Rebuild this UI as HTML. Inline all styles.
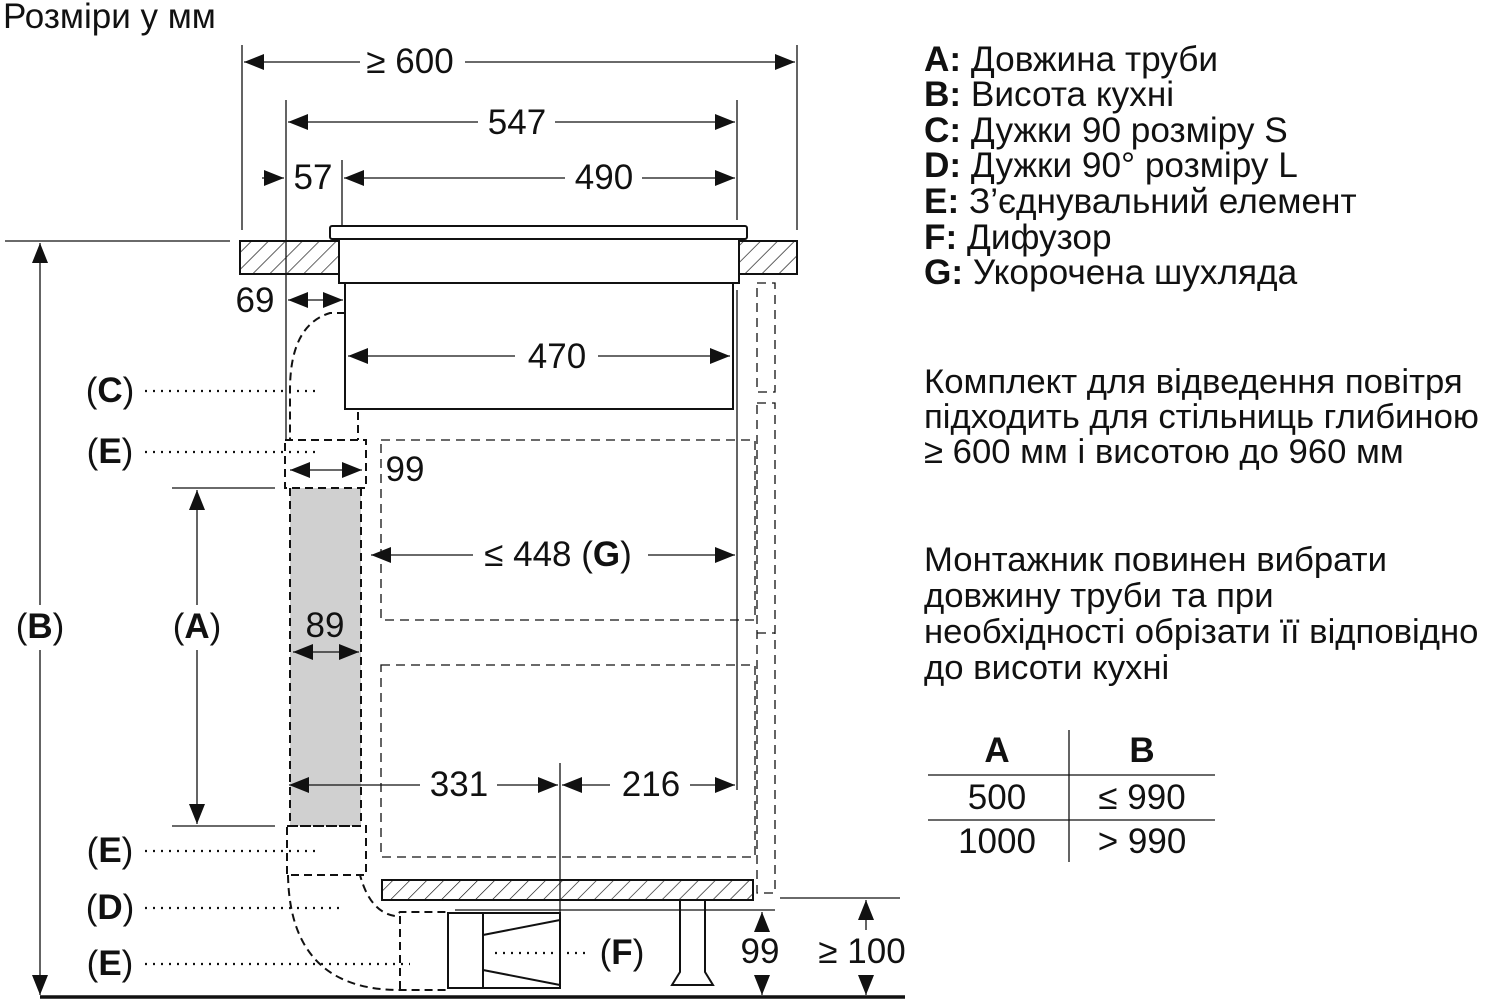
<!DOCTYPE html>
<html><head><meta charset="utf-8"><style>
html,body{margin:0;padding:0;background:#fff;}
svg{display:block;}
text{font-family:"Liberation Sans",sans-serif;fill:#111;}
</style></head><body>
<svg width="1500" height="1006" viewBox="0 0 1500 1006" xmlns="http://www.w3.org/2000/svg">
<defs>
<marker id="a" viewBox="0 0 10 10" refX="10" refY="5" markerWidth="20" markerHeight="20" markerUnits="userSpaceOnUse" orient="auto-start-reverse"><path d="M0,1 L10,5 L0,9 z" fill="#111"/></marker>
<pattern id="h" width="12" height="12" patternUnits="userSpaceOnUse" patternTransform="rotate(45)"><line x1="0" y1="0" x2="0" y2="12" stroke="#111" stroke-width="1.3"/></pattern>
</defs>
<text x="3" y="28" font-size="35">Розміри у мм</text>
<g stroke="#111" fill="none" stroke-width="1.3">
<line x1="242" y1="45" x2="242" y2="230"/><line x1="797" y1="45" x2="797" y2="230"/>
<line x1="286" y1="100" x2="286" y2="440"/><line x1="737" y1="100" x2="737" y2="220"/>
<line x1="342" y1="160" x2="342" y2="225"/>
<line x1="5" y1="241" x2="230" y2="241"/>
<line x1="172" y1="488" x2="275" y2="488"/><line x1="172" y1="826" x2="275" y2="826"/>
<line x1="737" y1="290" x2="737" y2="790"/>
<line x1="560" y1="763" x2="560" y2="912"/>
<line x1="780" y1="898" x2="900" y2="898"/><line x1="455" y1="910" x2="775" y2="910"/>
<rect x="240" y="241" width="99" height="33" fill="url(#h)" stroke-width="2"/>
<rect x="739" y="241" width="58" height="33" fill="url(#h)" stroke-width="2"/>
<rect x="330" y="226" width="417" height="13" rx="2" fill="#fff" stroke-width="2"/>
<rect x="339" y="239" width="400" height="44" fill="#fff" stroke-width="2"/>
<rect x="345" y="283" width="388" height="126" fill="#fff" stroke-width="2"/>
<rect x="290" y="488" width="71" height="338" fill="#d0d0d0" stroke="none"/>
<g stroke-dasharray="8,5" stroke-width="2">
<path d="M345,313 L330,313 Q290,325 290,390 L290,440"/>
<line x1="358" y1="412" x2="358" y2="440"/>
<rect x="285" y="440" width="81" height="48"/>
<path d="M290,488 L290,826 M361,488 L361,826"/>
<line x1="290" y1="826" x2="361" y2="826"/>
<rect x="287" y="826" width="79" height="49"/>
<path d="M288,875 Q290,990 400,990 L448,990 L448,912 L400,912 L395,916 Q370,912 360,875"/>
<line x1="400" y1="916" x2="400" y2="990"/>
</g>
<g stroke-dasharray="9,6" stroke-width="1.3">
<rect x="381" y="440" width="374" height="180"/>
<rect x="381" y="665" width="374" height="192"/>
<rect x="757" y="283" width="18" height="109"/>
<path d="M757,403 L775,403 L775,893 L757,893 L757,403"/>
<line x1="757" y1="633" x2="775" y2="633"/>
</g>
<rect x="382" y="880" width="371" height="20" fill="url(#h)" stroke-width="2"/>
<path d="M680,900 L680,972 L672,985 L713,985 L705,972 L705,900" stroke-width="2"/>
<rect x="448" y="913" width="112" height="75" fill="#fff" stroke-width="2"/>
<line x1="483" y1="913" x2="483" y2="988" stroke-width="2"/>
<line x1="483" y1="935" x2="560" y2="920" stroke-width="2"/><line x1="483" y1="970" x2="560" y2="985" stroke-width="2"/>
<line x1="40" y1="997" x2="905" y2="997" stroke-width="3.5"/>
<line x1="244" y1="62" x2="360" y2="62" marker-start="url(#a)"/><line x1="465" y1="62" x2="795" y2="62" marker-end="url(#a)"/>
<line x1="288" y1="122" x2="478" y2="122" marker-start="url(#a)"/><line x1="555" y1="122" x2="735" y2="122" marker-end="url(#a)"/>
<line x1="262" y1="178" x2="284" y2="178" marker-end="url(#a)"/>
<line x1="344" y1="178" x2="565" y2="178" marker-start="url(#a)"/><line x1="642" y1="178" x2="735" y2="178" marker-end="url(#a)"/>
<line x1="288" y1="300" x2="343" y2="300" marker-start="url(#a)" marker-end="url(#a)"/>
<line x1="348" y1="356" x2="515" y2="356" marker-start="url(#a)"/><line x1="598" y1="356" x2="730" y2="356" marker-end="url(#a)"/>
<line x1="290" y1="470" x2="362" y2="470" marker-start="url(#a)" marker-end="url(#a)"/>
<line x1="293" y1="652" x2="359" y2="652" marker-start="url(#a)" marker-end="url(#a)"/>
<line x1="371" y1="555" x2="473" y2="555" marker-start="url(#a)"/><line x1="648" y1="555" x2="735" y2="555" marker-end="url(#a)"/>
<line x1="289" y1="785" x2="420" y2="785" marker-start="url(#a)"/><line x1="497" y1="785" x2="558" y2="785" marker-end="url(#a)"/>
<line x1="562" y1="785" x2="610" y2="785" marker-start="url(#a)"/><line x1="690" y1="785" x2="735" y2="785" marker-end="url(#a)"/>
<line x1="40" y1="243" x2="40" y2="605" marker-start="url(#a)"/><line x1="40" y1="650" x2="40" y2="995" marker-end="url(#a)"/>
<line x1="197" y1="490" x2="197" y2="605" marker-start="url(#a)"/><line x1="197" y1="650" x2="197" y2="824" marker-end="url(#a)"/>
<line x1="762" y1="912" x2="762" y2="930" marker-start="url(#a)"/><line x1="762" y1="975" x2="762" y2="995" marker-end="url(#a)"/>
<line x1="866" y1="900" x2="866" y2="930" marker-start="url(#a)"/><line x1="866" y1="975" x2="866" y2="995" marker-end="url(#a)"/>
<g stroke-dasharray="2,6" stroke-width="2.2">
<line x1="145" y1="391" x2="318" y2="391"/>
<line x1="145" y1="452" x2="318" y2="452"/>
<line x1="145" y1="851" x2="318" y2="851"/>
<line x1="145" y1="908" x2="345" y2="908"/>
<line x1="145" y1="964" x2="410" y2="964"/>
<line x1="495" y1="953" x2="590" y2="953"/>
</g>
<line x1="928" y1="775" x2="1215" y2="775"/><line x1="928" y1="820" x2="1215" y2="820"/>
<line x1="1069" y1="730" x2="1069" y2="862"/>
</g>
<g font-size="35">
<text x="410" y="73" text-anchor="middle">≥ 600</text>
<text x="517" y="134" text-anchor="middle">547</text>
<text x="313" y="189" text-anchor="middle">57</text>
<text x="604" y="189" text-anchor="middle">490</text>
<text x="255" y="312" text-anchor="middle">69</text>
<text x="557" y="368" text-anchor="middle">470</text>
<text x="405" y="481" text-anchor="middle">99</text>
<text x="325" y="637" text-anchor="middle">89</text>
<text x="558" y="566" text-anchor="middle">≤ 448 (<tspan font-weight="bold">G</tspan>)</text>
<text x="459" y="796" text-anchor="middle">331</text>
<text x="651" y="796" text-anchor="middle">216</text>
<text x="760" y="963" text-anchor="middle">99</text>
<text x="862" y="963" text-anchor="middle">≥ 100</text>
<text x="40" y="638" text-anchor="middle">(<tspan font-weight="bold">B</tspan>)</text>
<text x="197" y="638" text-anchor="middle">(<tspan font-weight="bold">A</tspan>)</text>
<text x="110" y="402" text-anchor="middle">(<tspan font-weight="bold">C</tspan>)</text>
<text x="110" y="463" text-anchor="middle">(<tspan font-weight="bold">E</tspan>)</text>
<text x="110" y="862" text-anchor="middle">(<tspan font-weight="bold">E</tspan>)</text>
<text x="110" y="919" text-anchor="middle">(<tspan font-weight="bold">D</tspan>)</text>
<text x="110" y="975" text-anchor="middle">(<tspan font-weight="bold">E</tspan>)</text>
<text x="622" y="964" text-anchor="middle">(<tspan font-weight="bold">F</tspan>)</text>
<text x="997" y="762" text-anchor="middle" font-weight="bold">A</text>
<text x="1142" y="762" text-anchor="middle" font-weight="bold">B</text>
<text x="997" y="809" text-anchor="middle">500</text>
<text x="1142" y="809" text-anchor="middle">≤ 990</text>
<text x="997" y="853" text-anchor="middle">1000</text>
<text x="1142" y="853" text-anchor="middle">&gt; 990</text>
</g>
<g font-size="35.2">
<text x="924" y="71"><tspan font-weight="bold">A:</tspan> Довжина труби</text>
<text x="924" y="106"><tspan font-weight="bold">B:</tspan> Висота кухні</text>
<text x="924" y="142"><tspan font-weight="bold">C:</tspan> Дужки 90  розміру S</text>
<text x="924" y="177"><tspan font-weight="bold">D:</tspan> Дужки 90° розміру L</text>
<text x="924" y="213"><tspan font-weight="bold">E:</tspan> З’єднувальний елемент</text>
<text x="924" y="249"><tspan font-weight="bold">F:</tspan> Дифузор</text>
<text x="924" y="284"><tspan font-weight="bold">G:</tspan> Укорочена шухляда</text>
</g>
<g font-size="34.7">
<text x="924" y="393">Комплект для відведення повітря</text>
<text x="924" y="428">підходить для стільниць глибиною</text>
<text x="924" y="463">≥ 600 мм і висотою до 960 мм</text>
<text x="924" y="571">Монтажник повинен вибрати</text>
<text x="924" y="607">довжину труби та при</text>
<text x="924" y="643">необхідності обрізати її відповідно</text>
<text x="924" y="679">до висоти кухні</text>
</g>
</svg>
</body></html>
